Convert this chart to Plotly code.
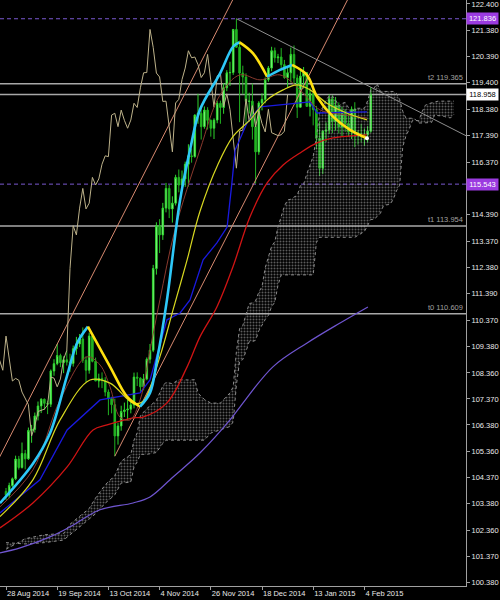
import plotly.graph_objects as go

# ---------------- data ----------------
date_labels = ["28 Aug 2014", "19 Sep 2014", "13 Oct 2014", "4 Nov 2014",
               "26 Nov 2014", "18 Dec 2014", "13 Jan 2015", "4 Feb 2015"]
date_pos = [0, 16, 32, 48, 64, 80, 96, 112]

opens = [103.85, 103.71, 104.07, 104.33, 105.08, 104.76, 105.29, 105.09, 106.17, 106.21,
         106.72, 107.10, 107.36, 107.20, 107.17, 108.43, 108.71, 109.02, 108.75, 108.86,
         108.77, 108.72, 109.28, 109.46, 109.65, 108.84, 108.46, 109.76, 108.80, 108.05,
         108.15, 108.08, 107.63, 107.38, 107.15, 105.96, 106.34, 106.89, 106.95, 106.98,
         107.14, 108.20, 108.16, 107.83, 108.13, 108.88, 109.22, 112.33, 113.96, 113.61,
         114.63, 115.38, 114.60, 114.82, 115.80, 115.51, 115.74, 116.30, 116.62, 116.59,
         118.17, 118.24, 117.73, 118.36, 117.97, 117.67, 117.98, 118.62, 118.46, 119.21,
         119.78, 119.79, 121.43, 120.75, 119.77, 119.62, 118.69, 118.70, 117.73, 116.77,
         118.63, 118.77, 119.52, 119.96, 120.62, 120.35, 120.38, 120.09, 119.60, 119.78,
         120.48, 119.58, 118.47, 119.65, 119.79, 118.50, 118.98, 118.38, 117.29, 116.15,
         117.56, 117.60, 118.79, 117.93, 118.53, 117.72, 118.33, 117.85, 117.53, 118.39,
         117.50, 117.46, 117.39, 117.42, 117.56]
highs = [103.98, 104.18, 104.38, 105.21, 105.20, 105.71, 105.43, 106.28, 106.38, 106.85,
         107.27, 107.39, 107.38, 107.30, 108.49, 108.88, 109.46, 109.09, 108.99, 109.22,
         109.09, 109.40, 109.73, 109.84, 110.09, 108.99, 109.89, 109.84, 108.94, 108.33,
         108.38, 108.20, 107.73, 107.45, 107.38, 106.46, 107.11, 107.23, 107.33, 107.31,
         108.37, 108.38, 108.19, 108.32, 108.95, 109.46, 112.47, 114.09, 114.21, 114.83,
         115.59, 115.51, 115.08, 115.90, 116.10, 116.06, 116.40, 117.06, 116.90, 118.20,
         118.98, 118.50, 118.50, 118.47, 118.01, 118.05, 118.72, 118.72, 119.38, 119.88,
         120.20, 121.44, 121.84, 121.00, 120.05, 119.76, 119.02, 119.37, 118.27, 118.70,
         119.00, 119.60, 120.04, 120.77, 120.74, 120.50, 120.72, 120.27, 120.00, 120.74,
         120.82, 119.71, 119.86, 120.00, 119.81, 119.21, 119.29, 118.52, 117.91, 117.60,
         117.89, 118.95, 118.93, 118.86, 118.65, 118.49, 118.40, 118.24, 118.50, 118.66,
         117.59, 117.84, 117.66, 117.75, 119.23]
lows = [103.52, 103.60, 104.02, 104.28, 104.68, 104.72, 104.69, 105.05, 105.70, 106.09,
        106.55, 106.83, 106.95, 106.79, 107.06, 108.25, 108.65, 108.58, 108.35, 108.64,
        108.40, 108.60, 109.05, 109.34, 108.74, 108.00, 108.33, 108.76, 108.05, 107.80,
        107.78, 107.47, 106.75, 106.82, 105.19, 105.63, 106.16, 106.68, 106.56, 106.82,
        107.01, 107.86, 107.64, 107.70, 108.08, 108.72, 109.15, 112.10, 112.92, 113.42,
        114.47, 114.25, 114.08, 114.73, 115.23, 115.36, 115.44, 115.45, 116.36, 116.55,
        117.84, 117.24, 117.65, 117.62, 117.35, 117.26, 117.86, 117.84, 118.22, 119.08,
        119.28, 119.70, 120.80, 117.90, 118.96, 117.82, 118.23, 117.24, 115.57, 116.66,
        118.35, 118.62, 119.44, 119.84, 120.17, 120.15, 119.95, 119.55, 119.23, 119.41,
        119.36, 118.06, 118.45, 119.18, 118.50, 118.12, 117.78, 116.87, 115.85, 115.93,
        117.15, 117.45, 117.48, 117.58, 117.47, 117.37, 117.53, 117.35, 117.26, 116.95,
        117.05, 117.13, 117.00, 117.13, 117.50]
closes = [103.71, 104.07, 104.33, 105.08, 104.76, 105.29, 105.09, 106.17, 106.21, 106.72,
          107.10, 107.36, 107.20, 107.17, 108.43, 108.71, 109.02, 108.75, 108.86, 108.77,
          108.72, 109.28, 109.46, 109.65, 108.84, 108.46, 109.76, 108.80, 108.05, 108.15,
          108.08, 107.63, 107.38, 107.15, 105.96, 106.34, 106.89, 106.95, 106.98, 107.14,
          108.20, 108.16, 107.83, 108.13, 108.88, 109.22, 112.33, 113.96, 113.61, 114.63,
          115.38, 114.60, 114.82, 115.80, 115.51, 115.74, 116.30, 116.62, 116.59, 118.17,
          118.24, 117.73, 118.36, 117.97, 117.67, 117.98, 118.62, 118.46, 119.21, 119.78,
          119.79, 121.43, 120.75, 119.77, 119.62, 118.69, 118.70, 117.73, 116.77, 118.63,
          118.77, 119.52, 119.96, 120.62, 120.35, 120.38, 120.09, 119.60, 119.78, 120.48,
          119.58, 118.47, 119.65, 119.79, 118.50, 118.98, 118.38, 117.29, 116.15, 117.56,
          117.60, 118.79, 117.93, 118.53, 117.72, 118.33, 117.85, 117.53, 118.39, 117.50,
          117.46, 117.39, 117.42, 117.56, 118.96]

# Ichimoku cloud (Senkou span A / B), bar positions incl. future bars
cloud_x = [0, 6, 12, 18, 20, 23, 26, 28, 31, 34, 36, 39, 40, 41, 42, 44, 47, 49, 50, 52,
           54, 57, 59, 60, 62, 64, 66, 67, 70, 71, 72, 73, 74, 75, 76, 77, 78, 79, 80, 81,
           82, 83, 84, 85, 86, 87, 88, 89, 90, 91, 92, 93, 94, 95, 96, 97, 98, 99, 100, 101,
           102, 103, 104, 105, 106, 107, 108, 109, 112, 113, 114, 115, 116, 117, 118, 120, 121, 122, 123, 124,
           125, 126, 127, 128, 129, 130, 131, 132, 133, 134, 135, 136, 137, 138, 139, 140]
span_a = [101.65, 102.05, 102.20, 102.25, 102.60, 102.90, 103.20, 103.60, 104.10, 104.45,
          105.00, 105.25, 105.80, 106.08, 106.73, 107.00, 107.31, 107.86, 108.00, 107.95,
          108.10, 108.09, 108.10, 107.59, 107.35, 107.21, 107.21, 107.21, 107.60, 107.83,
          109.17, 110.05, 110.16, 110.62, 111.00, 111.02, 111.10, 111.43, 111.64, 112.36,
          112.73, 113.18, 113.35, 113.92, 114.31, 114.71, 114.94, 114.97, 115.05, 115.11,
          115.49, 115.54, 115.93, 116.27, 116.60, 117.32, 118.26, 118.47, 118.74, 118.90,
          118.90, 118.75, 118.50, 118.62, 118.65, 118.46, 118.23, 118.43, 118.43, 118.71,
          119.13, 119.20, 119.36, 119.07, 119.07, 119.07, 119.07, 119.00, 118.77, 118.31,
          118.05, 118.05, 118.05, 118.00, 117.87, 117.87, 117.87, 117.87, 117.89, 118.20,
          118.15, 118.14, 118.12, 118.07, 118.07, 118.20]
span_b = [101.90, 101.85, 101.90, 102.00, 102.20, 102.50, 102.80, 103.00, 103.40, 103.72,
          104.17, 104.20, 104.78, 104.97, 105.26, 105.26, 105.33, 105.68, 105.80, 105.80,
          105.80, 105.80, 105.80, 105.80, 105.80, 106.07, 106.15, 106.20, 106.32, 106.50,
          107.90, 108.80, 108.87, 109.18, 109.55, 109.55, 109.60, 109.96, 110.19, 110.39,
          110.55, 110.88, 111.05, 111.70, 112.09, 112.09, 112.09, 112.09, 112.09, 112.09,
          112.09, 112.09, 112.09, 112.09, 112.09, 113.32, 113.52, 113.52, 113.52, 113.52,
          113.52, 113.52, 113.52, 113.52, 113.52, 113.52, 113.52, 113.52, 113.74, 114.00,
          114.20, 114.20, 114.33, 114.43, 114.74, 114.77, 114.96, 115.28, 115.50, 116.97,
          117.38, 117.63, 117.96, 117.96, 117.96, 118.29, 118.54, 118.60, 118.64, 118.65,
          118.70, 118.70, 118.70, 118.70, 118.70, 118.70]

# smoothed fast average (cyan rising / yellow falling)
fast_x = [-1.9, 8.4, 13.75, 19.0, 22.2, 25.6, 32.5, 37.8, 41.9, 45.0, 47.2, 50.3, 54.4,
          57.5, 60.6, 66.9, 71.0, 73.0, 77.2, 81.6, 85.6, 89.4, 94.0, 97.2, 102.2, 107.5, 112.8]
fast_y = [103.40, 104.90, 106.06, 108.22, 109.49, 110.12, 108.60, 107.46, 107.08, 107.60,
          108.85, 111.14, 114.94, 116.84, 118.37, 119.76, 120.78, 120.94, 120.52, 119.63,
          119.89, 120.08, 119.70, 118.87, 118.11, 117.61, 117.29]

slow_x = [-1.9, 8.4, 16.9, 26.25, 32.5, 39.7, 42.8, 48.1, 52.2, 56.6, 60.6, 66.25, 70.9,
          76.25, 81.6, 86.6, 90.9, 95.0, 100.3, 106.6, 112.8]
slow_y = [102.89, 104.29, 106.57, 108.09, 107.97, 107.21, 107.27, 108.98, 110.76, 112.66,
          114.50, 116.30, 117.35, 117.99, 118.75, 119.13, 119.32, 119.13, 118.62, 118.24, 117.99]

band_x = [-1.9, 8.4, 16.9, 25.3, 29.4, 32.5, 35.6, 38.75, 41.9, 45.0, 48.1, 52.8, 60.6,
          66.9, 73.1, 79.4, 85.6, 91.9, 98.1, 105.9, 112.8]
band_y = [103.26, 104.67, 107.33, 108.97, 108.66, 107.83, 106.68, 106.57, 107.33, 109.23,
          111.14, 113.80, 116.84, 118.94, 119.70, 119.51, 119.70, 119.13, 118.37, 118.18, 118.06]

blue_x = [-1.9, 10.6, 19.1, 29.4, 41.9, 45.0, 50.3, 54.4, 57.5, 61.6, 65.9, 69.1, 70.6,
          71.6, 75.3, 79.4, 95.0, 97.2, 112.8]
blue_y = [103.03, 104.29, 106.19, 107.33, 107.60, 108.09, 110.38, 110.64, 111.14, 112.66,
          113.31, 113.91, 115.59, 116.84, 117.87, 118.48, 118.67, 118.25, 118.29]

red_x = [-1.9, 8.4, 19.1, 27.2, 31.6, 39.7, 42.8, 50.3, 56.6, 60.6, 65.9, 70.9, 76.25,
         81.6, 86.6, 91.9, 97.2, 102.2, 112.8]
red_y = [102.46, 103.41, 104.78, 106.19, 106.38, 106.65, 106.68, 107.22, 108.59, 109.73,
         110.87, 112.39, 114.30, 115.59, 116.27, 116.73, 117.11, 117.30, 117.42]

purple_x = [-1.9, 4.4, 13.75, 20.0, 29.4, 39.7, 45.0, 52.2, 60.6, 70.0, 73.1, 83.4, 94.1, 104.4, 113.1]
purple_y = [101.51, 101.70, 102.12, 102.50, 103.15, 103.41, 103.64, 104.40, 105.31, 106.57,
            107.06, 108.59, 109.50, 110.26, 110.87]

chan1_x = [-2, 73]
chan1_y = [105.16, 123.07]
chan2_x = [34, 108]
chan2_y = [105.19, 122.86]
trend_x = [72, 144]
trend_y = [121.84, 117.37]

tlines = [("t2", 119.365), ("t1", 113.954), ("t0", 110.609)]
level_hi = 121.836
level_lo = 115.543
last_price = 118.958

y_ticks = [122.400, 121.380, 120.390, 119.400, 118.380, 117.390, 116.370, 114.390,
           113.370, 112.380, 111.390, 110.370, 109.380, 108.360, 107.370, 106.380, 105.360,
           104.370, 103.380, 102.360, 101.370, 100.380]

# ---------------- figure ----------------
FONT = "Liberation Sans, Arial, sans-serif"
fig = go.Figure()

# cloud
fig.add_trace(go.Scatter(x=cloud_x, y=span_b, mode="lines",
                         line=dict(color="#8c8c8c", width=1, dash="dot"),
                         hoverinfo="skip", showlegend=False))
fig.add_trace(go.Scatter(x=cloud_x, y=span_a, mode="lines",
                         line=dict(color="#8c8c8c", width=1, dash="dot"),
                         fill="tonexty", fillcolor="rgba(0,0,0,0)",
                         fillpattern=dict(shape=".", fgcolor="#b8b8b8", bgcolor="rgba(0,0,0,0)",
                                          size=3, solidity=0.35),
                         hoverinfo="skip", showlegend=False))

def line(x, y, color, width=1, dash=None, shape="linear"):
    fig.add_trace(go.Scatter(x=x, y=y, mode="lines",
                             line=dict(color=color, width=width, dash=dash, shape=shape),
                             hoverinfo="skip", showlegend=False))

# channel & trend lines
line(chan1_x, chan1_y, "#d88a70", 1)
line(chan2_x, chan2_y, "#d88a70", 1)
line(trend_x, trend_y, "#8e8e8e", 1)

# lagging span
line([i - 26 for i in range(len(closes))], closes, "#bdb28a", 1)

# averages
line(purple_x, purple_y, "#6f55d0", 1.2, shape="spline")
line(red_x, red_y, "#d01414", 1.3, shape="spline")
line(blue_x, blue_y, "#1a1ae0", 1.3)
line(band_x, band_y, "#8a3a2e", 1, shape="spline")

# candles
fig.add_trace(go.Candlestick(
    x=list(range(len(closes))), open=opens, high=highs, low=lows, close=closes,
    increasing=dict(line=dict(color="#2ed62e", width=1), fillcolor="#9cff9c"),
    decreasing=dict(line=dict(color="#22b422", width=1), fillcolor="#22b422"),
    whiskerwidth=0, hoverinfo="skip", showlegend=False))

line(slow_x, slow_y, "#d8d820", 1.2, shape="spline")

# fast average coloured by direction
groups = []
cur = [0]
cur_up = fast_y[1] >= fast_y[0]
for i in range(1, len(fast_x)):
    up = fast_y[i] >= fast_y[i - 1]
    if up != cur_up:
        groups.append((cur, cur_up))
        cur = [i - 1]
        cur_up = up
    cur.append(i)
groups.append((cur, cur_up))
for idxs, up in groups:
    line([fast_x[k] for k in idxs], [fast_y[k] for k in idxs],
         "#2ec8f8" if up else "#ffe010", 2.6, shape="spline")
fig.add_trace(go.Scatter(x=[fast_x[-1]], y=[fast_y[-1]], mode="markers",
                         marker=dict(color="white", size=4), hoverinfo="skip", showlegend=False))

# horizontal levels
shapes = []
for _, v in tlines:
    shapes.append(dict(type="line", xref="paper", x0=0, x1=1, yref="y", y0=v, y1=v,
                       line=dict(color="#a8a8a8", width=1.5), layer="below"))
shapes.append(dict(type="line", xref="paper", x0=0, x1=1, yref="y", y0=last_price, y1=last_price,
                   line=dict(color="#a8a8a8", width=1.5), layer="below"))
for v in (level_hi, level_lo):
    shapes.append(dict(type="line", xref="paper", x0=0, x1=1, yref="y", y0=v, y1=v,
                       line=dict(color="#7a58d0", width=1, dash="4px,3px"), layer="below"))

annotations = []
for name, v in tlines:
    annotations.append(dict(xref="paper", x=1, xanchor="right", xshift=-1, yref="y", y=v,
                            yanchor="bottom", text=f"{name} {v:.3f}", showarrow=False,
                            font=dict(family=FONT, size=7.5, color="#a0a0a0")))
for v, bg, fg in ((level_hi, "#9b3be0", "white"), (level_lo, "#9b3be0", "white"),
                  (last_price, "white", "black")):
    annotations.append(dict(xref="paper", x=1, xanchor="left", xshift=0, yref="y", y=v,
                            yanchor="middle", text=f"{v:.3f}", showarrow=False,
                            bgcolor=bg, borderpad=1, width=29,
                            font=dict(family=FONT, size=7.5, color=fg)))

fig.update_layout(
    width=500, height=600,
    margin=dict(l=0, r=34, t=0, b=14, autoexpand=False),
    paper_bgcolor="black", plot_bgcolor="black",
    showlegend=False, shapes=shapes, annotations=annotations,
    xaxis=dict(range=[-1.875, 143.75], showgrid=False, zeroline=False, automargin=False,
               tickvals=date_pos, ticktext=date_labels, ticks="outside", ticklen=3,
               tickangle=0,
               tickcolor="#a0a0a0", showline=True, linecolor="#a0a0a0", linewidth=1,
               ticklabelposition="outside right",
               tickfont=dict(family=FONT, size=7.5, color="#e8e8e8"),
               rangeslider=dict(visible=False)),
    yaxis=dict(range=[100.25, 122.55], side="right", showgrid=False, zeroline=False,
               automargin=False, ticklabeloverflow="allow",
               tickvals=y_ticks, ticktext=[f"{v:.3f}" for v in y_ticks],
               ticks="outside", ticklen=3, tickcolor="#a0a0a0",
               showline=True, linecolor="#a0a0a0", linewidth=1,
               tickfont=dict(family=FONT, size=7.5, color="#e8e8e8")),
)

fig.write_html("out.html", config={"displayModeBar": False},
               post_script="document.body.style.margin='0';document.body.style.background='black';")
